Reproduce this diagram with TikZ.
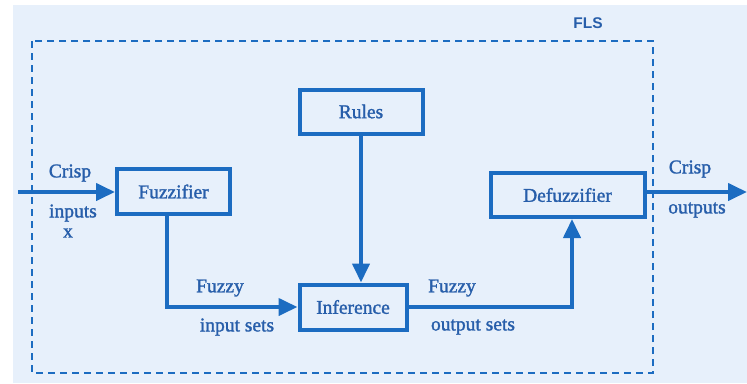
\documentclass[tikz,border=0pt]{standalone}
\usepackage{fontspec}
\setmainfont{Liberation Serif}
\newfontfamily\lblfont[FakeBold=1.5]{Liberation Serif}
\newfontfamily\flsfont{Liberation Sans}
\usetikzlibrary{arrows.meta}
\definecolor{bgblue}{HTML}{E7F0FB}
\definecolor{lineblue}{HTML}{1C6CC1}
\definecolor{textblue}{HTML}{275EAA}
\tikzset{
  blk/.style={draw=lineblue, line width=4pt, rectangle, inner sep=0pt, text=textblue,
    font=\lblfont\fontsize{19.5}{22}\selectfont},
  lbl/.style={text=textblue, inner sep=0pt, font=\lblfont\fontsize{19.5}{22}\selectfont},
  conn/.style={draw=lineblue, line width=4pt, -{Triangle[length=19pt,width=17pt]}},
  border/.style={draw=lineblue, line width=2pt, dash pattern=on 7pt off 5pt}
}
\begin{document}
\begin{tikzpicture}[x=1pt,y=-1pt]
\useasboundingbox (0,0) rectangle (747,383);
\fill[bgblue] (13,5) rectangle (747,383);
\draw[border] (32,41) rectangle (653,373);
\node[text=textblue, font=\flsfont\bfseries\fontsize{15.5}{18}\selectfont] (fls) at (588,23) {FLS};

\node[blk, minimum width=113pt, minimum height=45pt] (fuzz) at (173.5,191.5) {Fuzzifier};
\node[blk, minimum width=123pt, minimum height=44pt] (rules) at (361,111.5) {Rules};
\node[blk, minimum width=107pt, minimum height=45pt] (infer) at (353,307) {Inference};
\node[blk, minimum width=154pt, minimum height=44pt] (defuzz) at (567.5,195) {Defuzzifier};

\coordinate (in) at (18,192);
\coordinate (out) at (747,192);
\coordinate (fuzzdown) at (167,215);
\coordinate (defup) at (572,220);

\draw[conn] (in) -- (in -| fuzz.west);
\draw[conn] (fuzzdown |- fuzz.south) |- (infer.west);
\draw[conn] (rules.south) -- (rules.south |- infer.north);
\draw[conn] (infer.east) -| (defup |- defuzz.south);
\draw[conn] (defuzz.east |- out) -- (out);

\node[lbl] (crispin) at (70,173) {Crisp};
\node[lbl] (inputs) at (73,213) {inputs};
\node[lbl] (xin) at (68,233) {x};
\node[lbl] (fuzzyin) at (220,288) {Fuzzy};
\node[lbl] (insets) at (237,327) {input sets};
\node[lbl] (fuzzyout) at (452,288) {Fuzzy};
\node[lbl] (outsets) at (473,327) {output sets};
\node[lbl] (crispout) at (690,169) {Crisp};
\node[lbl] (outputs) at (697,210) {outputs};
\end{tikzpicture}
\end{document}
